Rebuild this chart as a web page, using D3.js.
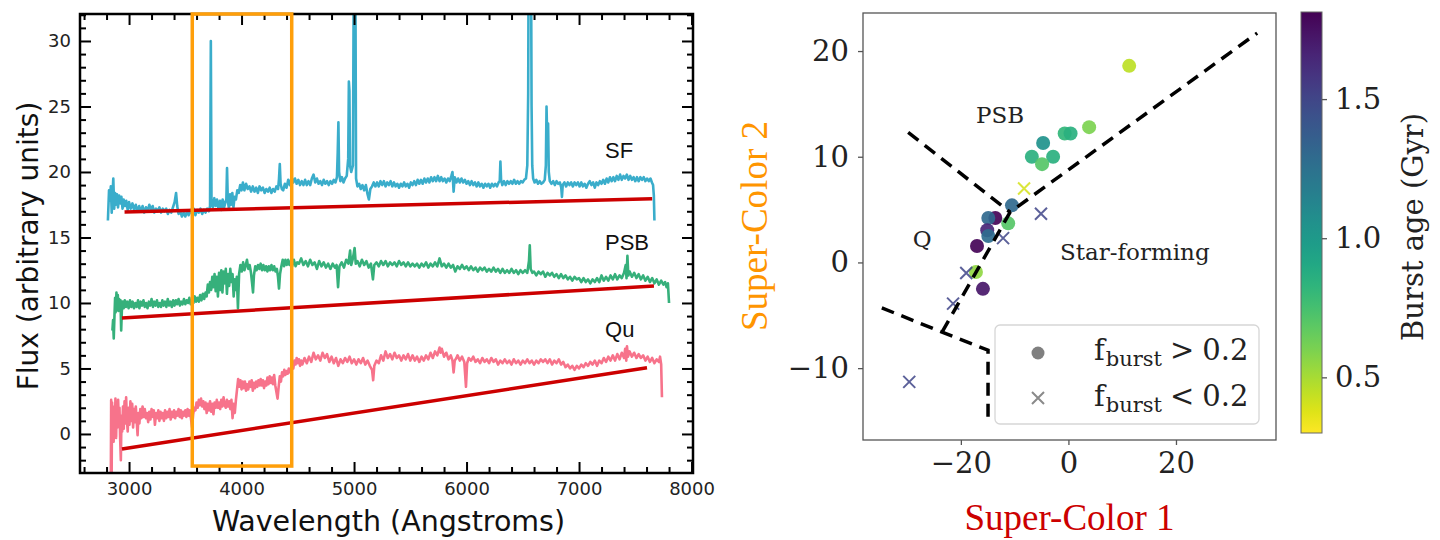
<!DOCTYPE html>
<html>
<head>
<meta charset="utf-8">
<script src="https://cdn.jsdelivr.net/npm/d3@7"></script>
<style>
  body { margin: 0; background: #fff; }
  svg { display: block; }
</style>
</head>
<body>
<svg id="chart" width="1440" height="540"></svg>
<script>
// ---------------------------------------------------------------
// Data: left panel, example spectra [wavelength (A), flux]
// ---------------------------------------------------------------
const sfSpectrum = [
  [2812,16.3],[2822,18.6],[2830,17.8],[2838,18.9],[2846,16.9],[2852,18.1],[2860,19.5],[2868,17.2],[2876,18.4],[2884,17.5],
  [2893,18.3],[2902,17.3],[2912,18.2],[2922,17.6],[2932,18.1],[2942,17.2],[2952,17.9],[2962,17.4],[2975,17.8],[2988,17.1],
  [3000,17.7],[3015,17.2],[3030,17.6],[3045,17.1],[3060,17.5],[3075,17.0],[3090,17.4],[3105,17.0],[3120,17.4],[3135,16.9],
  [3150,17.3],[3165,17.0],[3180,17.5],[3195,17.1],[3210,17.4],[3225,16.9],[3240,17.2],[3255,17.0],[3270,17.3],[3285,16.9],
  [3300,17.2],[3315,17.0],[3330,17.2],[3345,16.8],[3360,17.1],[3375,16.9],[3390,17.3],[3405,17.7],[3418,18.4],[3428,17.4],
  [3440,16.8],[3455,17.0],[3470,16.6],[3485,16.9],[3500,16.6],[3515,17.0],[3530,16.7],[3545,17.1],[3560,16.8],[3575,17.2],
  [3590,16.7],[3605,17.1],[3620,16.9],[3635,17.2],[3650,16.8],[3665,17.1],[3680,16.9],[3695,17.2],[3710,17.0],[3720,17.4],
  [3727,30.0],[3733,17.6],[3745,17.3],[3758,18.0],[3770,17.4],[3782,17.9],[3795,17.2],[3808,17.8],[3820,17.1],[3832,17.9],
  [3845,17.3],[3857,17.7],[3865,17.9],[3871,20.3],[3878,17.8],[3888,17.2],[3898,18.3],[3908,17.5],[3918,18.4],[3928,17.3],
  [3938,18.1],[3950,17.9],[3962,18.6],[3975,18.4],[3988,19.0],[4000,18.6],[4012,19.2],[4025,18.6],[4040,19.1],[4055,18.7],
  [4070,18.9],[4085,18.5],[4100,18.9],[4115,18.5],[4130,18.8],[4145,18.4],[4160,18.9],[4175,18.6],[4190,18.8],[4205,18.4],
  [4220,18.7],[4235,18.5],[4250,18.8],[4265,18.4],[4280,18.7],[4295,18.5],[4310,18.9],[4325,18.7],[4333,19.5],[4340,20.6],
  [4347,19.1],[4358,18.7],[4370,18.6],[4385,19.1],[4400,18.8],[4415,19.4],[4430,19.0],[4445,19.6],[4460,19.2],[4475,19.5],
  [4490,19.1],[4505,19.4],[4520,19.0],[4535,19.3],[4550,19.0],[4565,19.4],[4580,19.0],[4595,19.3],[4610,19.0],[4625,19.5],
  [4640,19.8],[4655,19.2],[4670,19.5],[4685,19.1],[4700,19.3],[4715,19.0],[4730,19.4],[4745,19.1],[4760,19.3],[4775,19.0],
  [4790,19.3],[4805,19.1],[4820,19.4],[4835,19.2],[4848,19.6],[4855,21.5],[4861,23.8],[4867,20.0],[4878,19.3],[4892,19.6],
  [4906,19.2],[4920,19.5],[4935,19.7],[4948,21.0],[4954,26.9],[4959,26.2],[4964,20.5],[4975,20.0],[4990,20.5],[5000,40.0],
  [5010,40.0],[5018,19.5],[5030,18.9],[5045,19.1],[5060,18.7],[5075,19.0],[5090,18.6],[5105,19.0],[5120,18.3],[5132,17.9],
  [5145,18.7],[5160,18.9],[5175,19.2],[5190,18.9],[5205,19.2],[5220,18.9],[5235,19.3],[5250,19.0],[5265,19.3],[5280,18.9],
  [5295,19.2],[5310,19.0],[5325,19.3],[5340,18.9],[5355,19.2],[5370,18.9],[5385,19.1],[5400,18.8],[5415,19.1],[5430,18.9],
  [5445,19.2],[5460,18.9],[5475,19.1],[5490,18.8],[5505,19.2],[5520,19.0],[5535,19.3],[5550,19.0],[5565,19.4],[5580,19.1],
  [5595,19.4],[5610,19.1],[5625,19.5],[5640,19.2],[5655,19.5],[5670,19.2],[5685,19.6],[5700,19.3],[5715,19.6],[5730,19.3],
  [5745,19.7],[5760,19.3],[5775,19.6],[5790,19.3],[5805,19.5],[5820,19.2],[5835,19.5],[5850,19.3],[5865,19.7],[5875,20.0],
  [5885,18.5],[5895,19.6],[5910,19.2],[5925,19.5],[5940,19.2],[5955,19.5],[5970,19.2],[5985,19.4],[6000,19.1],[6015,19.3],
  [6030,19.0],[6045,19.3],[6060,19.0],[6075,19.2],[6090,18.9],[6105,19.2],[6120,18.9],[6135,19.1],[6150,18.8],[6165,19.1],
  [6180,18.9],[6195,19.1],[6210,18.8],[6225,19.1],[6240,18.9],[6255,19.1],[6270,18.9],[6285,19.2],[6295,19.3],[6301,20.8],
  [6307,19.4],[6318,19.0],[6333,19.3],[6348,19.0],[6363,19.3],[6378,19.1],[6393,19.3],[6408,19.1],[6423,19.4],[6438,19.1],
  [6453,19.3],[6468,19.1],[6483,19.3],[6498,19.2],[6513,19.4],[6528,19.5],[6540,20.5],[6548,26.0],[6553,40.0],[6572,40.0],
  [6578,25.1],[6584,20.5],[6592,19.5],[6605,19.2],[6620,19.4],[6635,19.1],[6650,19.3],[6665,19.1],[6680,19.2],[6695,19.4],
  [6705,20.5],[6711,25.0],[6717,22.6],[6725,23.7],[6731,20.0],[6740,19.3],[6755,19.1],[6770,19.3],[6785,19.0],[6800,19.3],
  [6815,19.1],[6830,19.2],[6842,18.8],[6848,18.1],[6855,19.0],[6870,19.2],[6885,18.9],[6900,19.2],[6915,19.0],[6930,19.2],
  [6945,18.9],[6960,19.2],[6975,19.0],[6990,19.2],[7005,18.9],[7020,19.2],[7035,18.9],[7050,19.1],[7065,18.8],[7080,19.1],
  [7095,19.3],[7110,19.0],[7125,19.2],[7140,18.8],[7155,19.2],[7170,19.0],[7185,19.3],[7200,19.1],[7215,19.4],[7230,19.1],
  [7245,19.5],[7260,19.2],[7275,19.6],[7290,19.3],[7305,19.6],[7320,19.3],[7335,19.7],[7350,19.4],[7365,19.8],[7380,19.4],
  [7395,19.7],[7410,19.5],[7425,19.8],[7440,19.4],[7455,19.7],[7470,19.4],[7485,19.6],[7500,19.3],[7515,19.6],[7530,19.3],
  [7545,19.6],[7560,19.4],[7575,19.6],[7590,19.3],[7605,19.5],[7620,19.3],[7635,19.5],[7648,19.2],[7658,19.0],[7665,18.2],
  [7670,16.3]
];

const psbSpectrum = [
  [2852,7.9],[2858,8.7],[2864,7.3],[2870,8.9],[2876,10.4],[2882,9.3],[2888,10.8],[2894,9.5],[2900,10.6],[2906,9.4],
  [2912,10.3],[2918,9.6],[2924,10.2],[2930,7.9],[2936,9.4],[2944,10.1],[2952,9.6],[2962,10.2],[2972,9.7],[2984,10.1],
  [2996,9.6],[3008,10.2],[3020,9.7],[3032,10.1],[3044,9.6],[3056,10.0],[3068,9.7],[3080,10.2],[3092,9.6],[3104,10.1],
  [3116,9.8],[3128,10.2],[3140,9.7],[3152,10.0],[3164,9.6],[3176,10.1],[3188,9.8],[3200,10.3],[3212,9.7],[3224,10.1],
  [3236,9.8],[3248,10.2],[3260,9.7],[3272,10.0],[3284,9.7],[3296,10.2],[3308,9.8],[3320,10.1],[3332,9.7],[3344,10.3],
  [3356,9.8],[3368,10.1],[3380,9.7],[3392,10.2],[3404,9.8],[3416,10.2],[3428,9.9],[3440,10.3],[3452,9.8],[3464,10.1],
  [3476,9.9],[3488,10.3],[3500,9.9],[3512,10.2],[3524,10.0],[3536,10.4],[3548,9.9],[3560,10.2],[3572,10.0],[3584,10.5],
  [3596,10.1],[3608,10.4],[3620,10.1],[3632,10.6],[3644,10.2],[3656,10.7],[3668,10.3],[3680,10.8],[3690,10.5],[3700,11.4],
  [3710,10.8],[3720,11.6],[3730,11.0],[3740,12.0],[3750,11.2],[3760,12.2],[3770,10.9],[3780,12.0],[3790,10.5],[3800,12.3],
  [3810,11.0],[3820,12.5],[3830,10.8],[3840,12.4],[3850,11.5],[3860,12.6],[3870,10.7],[3880,12.2],[3890,11.3],[3900,12.6],
  [3910,11.6],[3920,12.2],[3930,10.5],[3940,11.8],[3950,11.0],[3958,12.0],[3968,9.6],[3978,12.2],[3990,12.9],[4002,12.4],
  [4014,13.1],[4026,12.5],[4038,12.9],[4048,13.3],[4060,12.6],[4072,12.9],[4084,12.3],[4095,11.4],[4102,10.8],[4110,12.1],
  [4122,12.8],[4134,12.5],[4146,12.9],[4158,12.6],[4170,13.0],[4182,12.5],[4194,12.9],[4206,12.5],[4218,12.8],[4230,12.4],
  [4242,12.8],[4254,12.5],[4266,12.9],[4278,12.5],[4290,12.8],[4302,12.4],[4314,12.6],[4324,12.0],[4333,11.1],[4342,12.2],
  [4354,12.8],[4366,13.3],[4378,12.8],[4390,13.3],[4402,12.9],[4414,13.3],[4426,12.9],[4438,13.2],[4450,12.8],[4465,13.3],
  [4480,12.8],[4495,13.1],[4510,13.0],[4530,13.4],[4550,12.9],[4570,13.2],[4590,12.8],[4610,13.3],[4630,12.9],[4650,13.1],
  [4670,12.6],[4690,13.2],[4710,12.8],[4730,13.1],[4750,12.7],[4770,13.0],[4790,12.6],[4810,13.0],[4830,12.7],[4845,12.9],
  [4858,11.2],[4870,12.8],[4890,13.1],[4910,12.7],[4930,13.3],[4950,13.0],[4965,14.0],[4975,12.9],[4990,13.4],[5005,14.2],
  [5015,13.0],[5030,13.2],[5050,12.8],[5070,13.3],[5090,12.9],[5110,13.2],[5130,12.7],[5150,13.0],[5168,11.8],[5180,12.9],
  [5200,13.1],[5220,12.8],[5240,13.2],[5260,12.9],[5280,13.2],[5300,12.8],[5320,13.1],[5340,12.9],[5360,13.1],[5380,12.8],
  [5400,13.2],[5420,12.9],[5440,13.1],[5460,12.8],[5480,13.1],[5500,12.8],[5520,13.0],[5540,12.8],[5560,13.0],[5580,12.7],
  [5600,13.0],[5620,12.8],[5640,13.1],[5660,12.7],[5680,13.0],[5700,12.8],[5720,13.1],[5740,12.8],[5760,13.4],[5780,12.8],
  [5800,13.0],[5820,12.7],[5840,13.0],[5860,12.7],[5880,12.9],[5900,12.4],[5920,12.8],[5940,12.6],[5960,12.9],[5980,12.6],
  [6000,12.8],[6020,12.5],[6040,12.8],[6060,12.5],[6080,12.7],[6100,12.4],[6120,12.7],[6140,12.5],[6160,12.7],[6180,12.4],
  [6200,12.6],[6220,12.4],[6240,12.7],[6260,12.4],[6280,12.6],[6300,12.3],[6320,12.6],[6340,12.3],[6360,12.5],[6380,12.3],
  [6400,12.6],[6420,12.3],[6440,12.5],[6460,12.2],[6480,12.5],[6500,12.3],[6520,12.5],[6540,12.3],[6555,13.2],[6562,14.4],
  [6570,12.6],[6585,12.3],[6600,12.4],[6620,12.1],[6640,12.4],[6660,12.2],[6680,12.4],[6700,12.0],[6720,12.3],[6740,12.1],
  [6760,12.3],[6780,12.0],[6800,12.2],[6820,11.9],[6840,12.2],[6860,11.9],[6880,12.1],[6900,11.8],[6920,12.0],[6940,11.7],
  [6960,12.0],[6980,11.8],[7000,11.9],[7020,11.6],[7040,11.9],[7060,11.6],[7080,11.8],[7100,11.5],[7120,11.8],[7140,11.6],
  [7160,11.9],[7180,11.6],[7200,12.1],[7220,11.7],[7240,12.0],[7260,11.7],[7280,12.1],[7300,11.8],[7320,12.2],[7340,11.8],
  [7360,12.1],[7380,11.9],[7400,12.3],[7415,12.9],[7422,11.9],[7430,13.6],[7438,12.1],[7450,12.4],[7470,12.0],[7490,12.3],
  [7510,11.9],[7530,12.2],[7550,11.8],[7570,12.1],[7590,11.7],[7610,12.0],[7630,11.6],[7650,11.9],[7670,11.5],[7690,11.8],
  [7710,11.4],[7730,11.7],[7750,11.4],[7765,11.6],[7778,11.2],[7790,11.5],[7800,10.0]
];

const quSpectrum = [
  [2838,-3.6],[2841,2.6],[2845,-3.6],[2849,2.4],[2853,0.1],[2858,2.1],[2863,-0.6],[2868,1.9],[2873,0.2],[2879,2.7],
  [2885,-0.3],[2891,2.3],[2897,0.5],[2903,2.6],[2909,0.9],[2915,2.0],[2921,-0.4],[2927,-2.0],[2933,1.4],[2939,0.2],
  [2946,2.1],[2953,0.4],[2960,2.5],[2967,0.8],[2974,2.8],[2981,1.1],[2988,0.2],[2996,2.0],[3004,0.7],[3012,2.5],
  [3020,1.0],[3028,2.3],[3036,0.5],[3044,1.9],[3052,0.9],[3060,2.1],[3068,1.0],[3076,-0.1],[3084,1.6],[3092,0.8],
  [3100,1.9],[3110,1.2],[3120,2.1],[3130,1.3],[3140,1.9],[3150,1.2],[3160,1.6],[3170,0.9],[3180,1.7],[3190,1.1],
  [3200,1.9],[3210,1.3],[3220,1.8],[3230,0.7],[3240,1.6],[3250,1.2],[3260,1.8],[3270,1.0],[3280,1.7],[3290,1.2],
  [3300,1.6],[3310,1.0],[3320,1.8],[3330,1.2],[3340,1.7],[3350,1.3],[3360,1.9],[3370,1.1],[3380,1.7],[3390,1.3],
  [3400,1.8],[3410,1.2],[3420,1.7],[3430,1.4],[3440,1.9],[3450,1.3],[3460,1.8],[3470,1.2],[3480,1.7],[3490,1.4],
  [3500,1.8],[3510,1.3],[3520,1.9],[3530,1.4],[3540,1.8],[3550,1.2],[3560,0.5],[3570,1.5],[3580,2.0],[3590,1.8],
  [3600,2.4],[3610,2.0],[3620,2.6],[3630,2.2],[3640,2.7],[3650,2.1],[3660,2.5],[3670,1.9],[3680,2.4],[3690,1.6],
  [3700,2.3],[3710,1.8],[3720,2.5],[3730,1.7],[3740,2.3],[3750,1.5],[3760,2.4],[3770,2.0],[3780,2.6],[3790,2.0],
  [3800,2.4],[3810,1.9],[3820,2.6],[3830,2.1],[3840,2.8],[3850,2.2],[3860,2.0],[3870,2.6],[3880,2.1],[3890,2.5],
  [3900,1.9],[3910,2.6],[3920,1.2],[3930,2.3],[3940,1.6],[3950,2.6],[3960,3.4],[3970,4.2],[3980,3.6],[3990,4.1],
  [4000,3.4],[4010,4.0],[4020,3.5],[4030,4.0],[4040,3.3],[4050,3.8],[4060,3.4],[4070,4.0],[4080,3.6],[4090,4.1],
  [4100,3.3],[4110,3.9],[4120,3.5],[4130,4.0],[4140,3.6],[4150,4.1],[4160,3.7],[4170,4.2],[4180,3.7],[4190,4.1],
  [4200,3.5],[4210,4.0],[4220,3.7],[4230,4.3],[4240,3.8],[4250,4.4],[4260,3.9],[4270,4.3],[4280,3.8],[4290,4.5],
  [4300,3.7],[4310,3.2],[4320,2.7],[4330,3.6],[4340,4.4],[4350,4.0],[4360,4.7],[4370,4.4],[4380,4.9],[4390,4.5],
  [4400,4.8],[4410,4.6],[4420,5.0],[4430,4.7],[4440,4.9],[4450,5.3],[4460,5.0],[4470,5.6],[4480,5.3],[4490,5.8],
  [4500,5.4],[4510,5.7],[4520,5.2],[4530,5.6],[4540,5.3],[4560,5.8],[4580,5.4],[4600,5.9],[4620,5.5],[4640,6.2],
  [4660,5.7],[4680,6.0],[4700,5.6],[4720,6.2],[4740,5.8],[4760,6.1],[4780,5.5],[4800,5.9],[4820,5.4],[4840,5.8],
  [4860,5.2],[4880,5.7],[4900,5.4],[4920,5.8],[4940,5.5],[4960,5.9],[4980,5.4],[5000,5.7],[5020,5.3],[5040,5.7],
  [5060,5.4],[5080,5.8],[5100,5.3],[5120,5.6],[5140,5.2],[5160,4.9],[5170,4.1],[5180,5.2],[5200,5.6],[5220,5.4],
  [5240,6.0],[5260,5.6],[5280,6.3],[5300,5.8],[5320,6.1],[5340,5.7],[5360,6.2],[5380,5.8],[5400,6.0],[5420,5.6],
  [5440,6.0],[5460,5.7],[5480,6.1],[5500,5.6],[5520,6.0],[5540,5.6],[5560,5.9],[5580,5.5],[5600,5.9],[5620,5.6],
  [5640,6.0],[5660,5.7],[5680,6.2],[5700,5.8],[5720,6.3],[5740,6.0],[5760,6.6],[5770,6.2],[5780,6.5],[5800,5.9],
  [5820,6.2],[5840,5.7],[5860,6.0],[5875,5.6],[5885,4.7],[5895,5.6],[5910,5.8],[5920,6.0],[5940,5.6],[5960,5.9],
  [5980,5.5],[5995,3.6],[6005,5.4],[6020,5.8],[6040,5.6],[6060,5.9],[6080,5.5],[6100,5.7],[6120,5.4],[6140,5.8],
  [6160,5.5],[6180,5.7],[6200,5.4],[6220,5.8],[6240,5.5],[6260,5.7],[6280,5.3],[6300,5.6],[6320,5.4],[6340,5.7],
  [6360,5.4],[6380,5.6],[6400,5.3],[6420,5.7],[6440,5.4],[6460,5.6],[6480,5.3],[6500,5.6],[6520,5.4],[6540,5.7],
  [6560,5.4],[6580,5.6],[6600,5.3],[6620,5.6],[6640,5.4],[6660,5.7],[6680,5.5],[6700,5.7],[6720,5.4],[6740,5.7],
  [6760,5.3],[6780,5.6],[6800,5.4],[6820,5.7],[6840,5.3],[6860,5.5],[6880,5.1],[6900,5.3],[6920,5.0],[6940,5.2],
  [6960,4.9],[6980,5.2],[7000,5.0],[7020,5.3],[7040,5.1],[7060,5.4],[7080,5.2],[7100,5.5],[7120,5.3],[7140,5.6],
  [7160,5.2],[7180,5.6],[7200,5.4],[7220,5.8],[7240,5.5],[7260,5.9],[7280,5.6],[7300,6.0],[7320,5.6],[7340,6.1],
  [7360,5.7],[7380,6.2],[7400,5.8],[7410,6.5],[7420,5.6],[7426,6.7],[7435,5.9],[7450,6.3],[7470,5.9],[7490,6.2],
  [7510,5.8],[7530,6.1],[7550,5.8],[7570,6.0],[7590,5.6],[7610,5.9],[7630,5.5],[7650,5.8],[7670,5.4],[7690,5.7],
  [7710,5.5],[7720,5.9],[7730,5.3],[7737,2.8]
];

// straight continuum fits (red lines), [wavelength, flux] end points
const sfFit = [[2960, 16.95], [7650, 17.95]];
const psbFit = [[2937, 8.85], [7666, 11.3]];
const quFit = [[2937, -1.15], [7604, 5.05]];

const spectrumNames = ['SF', 'PSB', 'Qu'];
const spectrumLabelFlux = [21.07, 14.05, 7.4];

// highlighted wavelength window (orange box)
const boxWave = [3562, 4446];

const waveTicks = [3000, 4000, 5000, 6000, 7000, 8000];
const fluxTicks = [0, 5, 10, 15, 20, 25, 30];
const waveLimits = [2564, 8013];
const fluxLimits = [-2.98, 32.06];

// ---------------------------------------------------------------
// Data: right panel, super-colour diagram
// ---------------------------------------------------------------
// f_burst > 0.2 (circles)
const highSC1 = [11.3, 3.85, -0.7, 0.4, -4.7, -6.8, -2.85, -4.9, -10.5, -11.2, -13.6, -14.9, -15.1, -14.9, -17.0, -17.2, -15.9];
const highSC2 = [18.6, 12.8, 12.2, 12.2, 11.3, 10.0, 10.0, 9.3, 5.4, 3.7, 4.2, 4.2, 3.05, 2.5, 1.55, -0.9, -2.5];
const highAge = [0.45, 0.6, 0.82, 0.85, 1.05, 0.85, 0.85, 0.7, 1.3, 0.7, 1.8, 1.3, 1.65, 1.28, 1.8, 0.55, 1.72];

// f_burst < 0.2 (crosses)
const lowSC1 = [-8.25, -5.1, -12.15, -19.0, -21.45, -29.6];
const lowSC2 = [7.0, 4.6, 2.3, -1.0, -3.9, -11.3];
const lowAge = [0.4, 1.5, 1.5, 1.5, 1.5, 1.5];

// class boundaries [super-colour 1, super-colour 2]
const boundaryLines = [
  [[-23.5, -6.6], [-10.85, 4.76], [35.1, 21.7]],
  [[-29.8, 12.3], [-10.85, 4.76]],
  [[-34.7, -4.3], [-23.5, -6.6], [-14.95, -8.3], [-14.95, -14.75]]
];

const regionNames = ['PSB', 'Q', 'Star-forming'];

const scTicksX = [-20, 0, 20];
const scTicksY = [-10, 0, 10, 20];
const ageTicks = [0.5, 1.0, 1.5];
const scLimitsX = [-38.2, 38.6];
const scLimitsY = [-16.8, 23.6];
const ageLimits = [0.3, 1.813];

// ---------------------------------------------------------------
const svg = d3.select('#chart');
const defs = svg.append('defs');

const SANS = "'DejaVu Sans', sans-serif";
const SERIF = "'DejaVu Serif', serif";
const TIMES = "'Liberation Serif', 'Times New Roman', serif";

// ======================= LEFT PANEL ============================
const spec = { left: 80, right: 693, top: 14, bottom: 473 };

const xSpec = d3.scaleLinear().domain(waveLimits).range([spec.left, spec.right]);
const ySpec = d3.scaleLinear().domain(fluxLimits).range([spec.bottom, spec.top]);

defs.append('clipPath').attr('id', 'specClip')
  .append('rect')
  .attr('x', spec.left).attr('y', spec.top)
  .attr('width', spec.right - spec.left).attr('height', spec.bottom - spec.top);

const specLine = d3.line()
  .x(d => xSpec(d[0]))
  .y(d => ySpec(d[1]));

const plotArea = svg.append('g').attr('clip-path', 'url(#specClip)');

const spectra = [
  { data: sfSpectrum, color: '#3aadcb', fit: sfFit },
  { data: psbSpectrum, color: '#36b07b', fit: psbFit },
  { data: quSpectrum, color: '#f7738b', fit: quFit }
];

spectra.forEach(s => {
  plotArea.append('path')
    .datum(s.data)
    .attr('d', specLine)
    .attr('fill', 'none')
    .attr('stroke', s.color)
    .attr('stroke-width', 2.6)
    .attr('stroke-linejoin', 'round');
});

spectra.forEach(s => {
  plotArea.append('path')
    .datum(s.fit)
    .attr('d', specLine)
    .attr('fill', 'none')
    .attr('stroke', '#cc0000')
    .attr('stroke-width', 3.5);
});

// spectrum names
svg.append('g').selectAll('text')
  .data(spectrumNames)
  .enter().append('text')
  .attr('x', xSpec(7231))
  .attr('y', (d, i) => ySpec(spectrumLabelFlux[i]))
  .attr('font-family', "'Liberation Sans', Arial, sans-serif")
  .attr('font-size', 22)
  .attr('fill', '#111')
  .text(d => d);

// ticks, all pointing inwards
function ticks(axis, scale, values, size, labels) {
  let a = axis(scale).tickValues(values).tickSize(-size).tickPadding(9);
  a.tickFormat(labels ? d3.format('d') : '');
  return a;
}

const waveMinor = d3.range(2600, 8001, 200).filter(v => v % 1000 !== 0);
const fluxMinor = d3.range(-2, 33, 1).filter(v => v % 5 !== 0);

const axisGroups = [];
axisGroups.push(svg.append('g').attr('transform', `translate(0,${spec.bottom})`)
  .call(ticks(d3.axisBottom, xSpec, waveTicks, 11, true)));
axisGroups.push(svg.append('g').attr('transform', `translate(0,${spec.bottom})`)
  .call(ticks(d3.axisBottom, xSpec, waveMinor, 6, false)));
axisGroups.push(svg.append('g').attr('transform', `translate(0,${spec.top})`)
  .call(ticks(d3.axisTop, xSpec, waveTicks, 11, false)));
axisGroups.push(svg.append('g').attr('transform', `translate(0,${spec.top})`)
  .call(ticks(d3.axisTop, xSpec, waveMinor, 6, false)));
axisGroups.push(svg.append('g').attr('transform', `translate(${spec.left},0)`)
  .call(ticks(d3.axisLeft, ySpec, fluxTicks, 11, true)));
axisGroups.push(svg.append('g').attr('transform', `translate(${spec.left},0)`)
  .call(ticks(d3.axisLeft, ySpec, fluxMinor, 6, false)));
axisGroups.push(svg.append('g').attr('transform', `translate(${spec.right},0)`)
  .call(ticks(d3.axisRight, ySpec, fluxTicks, 11, false)));
axisGroups.push(svg.append('g').attr('transform', `translate(${spec.right},0)`)
  .call(ticks(d3.axisRight, ySpec, fluxMinor, 6, false)));

axisGroups.forEach(g => {
  g.select('.domain').remove();
  g.selectAll('line').attr('stroke', '#000').attr('stroke-width', 2);
  g.selectAll('text')
    .attr('font-family', SANS)
    .attr('font-size', 18)
    .attr('fill', '#222');
});

// spines
svg.append('rect')
  .attr('x', spec.left).attr('y', spec.top)
  .attr('width', spec.right - spec.left).attr('height', spec.bottom - spec.top)
  .attr('fill', 'none')
  .attr('stroke', '#000')
  .attr('stroke-width', 2.5);

// orange window
svg.append('rect')
  .attr('x', xSpec(boxWave[0]))
  .attr('y', spec.top)
  .attr('width', xSpec(boxWave[1]) - xSpec(boxWave[0]))
  .attr('height', ySpec(-2.45) - spec.top)
  .attr('fill', 'none')
  .attr('stroke', '#ff9f0a')
  .attr('stroke-width', 3.5);

svg.append('text')
  .attr('x', (spec.left + spec.right) / 2 + 2)
  .attr('y', 531)
  .attr('text-anchor', 'middle')
  .attr('font-family', SANS)
  .attr('font-size', 28.5)
  .attr('fill', '#111')
  .text('Wavelength (Angstroms)');

svg.append('text')
  .attr('transform', 'translate(38,246) rotate(-90)')
  .attr('text-anchor', 'middle')
  .attr('font-family', SANS)
  .attr('font-size', 28)
  .attr('fill', '#111')
  .text('Flux (arbitrary units)');

// ======================= RIGHT PANEL ===========================
const sc = { left: 863, right: 1276, top: 13, bottom: 440 };

const xSC = d3.scaleLinear().domain(scLimitsX).range([sc.left, sc.right]);
const ySC = d3.scaleLinear().domain(scLimitsY).range([sc.bottom, sc.top]);

const ageColor = a => d3.interpolateViridis((ageLimits[1] - a) / (ageLimits[1] - ageLimits[0]));

defs.append('clipPath').attr('id', 'scClip')
  .append('rect')
  .attr('x', sc.left).attr('y', sc.top)
  .attr('width', sc.right - sc.left).attr('height', sc.bottom - sc.top);

const scArea = svg.append('g').attr('clip-path', 'url(#scClip)');

// circles
scArea.append('g').selectAll('circle')
  .data(highSC1.map((v, i) => ({ x: v, y: highSC2[i], age: highAge[i] })))
  .enter().append('circle')
  .attr('cx', d => xSC(d.x))
  .attr('cy', d => ySC(d.y))
  .attr('r', 7)
  .attr('fill', d => ageColor(d.age))
  .attr('fill-opacity', 0.92);

// crosses
scArea.append('g').selectAll('path')
  .data(lowSC1.map((v, i) => ({ x: v, y: lowSC2[i], age: lowAge[i] })))
  .enter().append('path')
  .attr('transform', d => `translate(${xSC(d.x)},${ySC(d.y)})`)
  .attr('d', 'M-6,-6L6,6M-6,6L6,-6')
  .attr('stroke', d => ageColor(d.age))
  .attr('stroke-opacity', 0.85)
  .attr('stroke-width', 2);

// class boundaries
const scLine = d3.line().x(d => xSC(d[0])).y(d => ySC(d[1]));
scArea.append('g').selectAll('path')
  .data(boundaryLines)
  .enter().append('path')
  .attr('d', scLine)
  .attr('fill', 'none')
  .attr('stroke', '#000')
  .attr('stroke-width', 3.5)
  .attr('stroke-dasharray', '13,8');

// region names
const regionPos = [[-12.7, 13.2, 'middle'], [-27.2, 1.45, 'middle'], [-1.55, 0.22, 'start']];
svg.append('g').selectAll('text')
  .data(regionNames)
  .enter().append('text')
  .attr('x', (d, i) => xSC(regionPos[i][0]))
  .attr('y', (d, i) => ySC(regionPos[i][1]))
  .attr('text-anchor', (d, i) => regionPos[i][2])
  .attr('font-family', SERIF)
  .attr('font-size', 23)
  .attr('fill', '#222')
  .text(d => d);

// axes
const scX = svg.append('g').attr('transform', `translate(0,${sc.bottom})`)
  .call(d3.axisBottom(xSC).tickValues(scTicksX).tickSize(5).tickPadding(7));
const scY = svg.append('g').attr('transform', `translate(${sc.left},0)`)
  .call(d3.axisLeft(ySC).tickValues(scTicksY).tickSize(5).tickPadding(9));
[scX, scY].forEach(g => {
  g.select('.domain').remove();
  g.selectAll('line').attr('stroke', '#555').attr('stroke-width', 1.3);
  g.selectAll('text')
    .attr('font-family', SERIF)
    .attr('font-size', 29)
    .attr('fill', '#222');
});

svg.append('rect')
  .attr('x', sc.left).attr('y', sc.top)
  .attr('width', sc.right - sc.left).attr('height', sc.bottom - sc.top)
  .attr('fill', 'none')
  .attr('stroke', '#555')
  .attr('stroke-width', 1.3);

// legend
const leg = svg.append('g');
leg.append('rect')
  .attr('x', 995).attr('y', 325).attr('width', 264).attr('height', 99)
  .attr('rx', 5)
  .attr('fill', '#fff').attr('fill-opacity', 0.85)
  .attr('stroke', '#d6d6d6').attr('stroke-width', 1.3);
leg.append('circle')
  .attr('cx', 1038).attr('cy', 353).attr('r', 6.5)
  .attr('fill', '#808080');
leg.append('path')
  .attr('transform', 'translate(1038,398)')
  .attr('d', 'M-6,-6L6,6M-6,6L6,-6')
  .attr('stroke', '#8a8a8a').attr('stroke-width', 2);

['>', '<'].forEach((op, i) => {
  const t = leg.append('text')
    .attr('x', 1094)
    .attr('y', 360 + i * 46)
    .attr('font-family', SERIF)
    .attr('font-size', 29)
    .attr('fill', '#222');
  t.append('tspan').text('f');
  t.append('tspan').attr('font-size', 21).attr('dy', 6).attr('dx', 1).text('burst');
  t.append('tspan').attr('dy', -6).attr('dx', 8).text(op);
  t.append('tspan').attr('dx', 8).text('0.2');
});

// axis titles
svg.append('text')
  .attr('x', (sc.left + sc.right) / 2)
  .attr('y', 530)
  .attr('text-anchor', 'middle')
  .attr('font-family', TIMES)
  .attr('font-size', 37)
  .attr('fill', '#cc0000')
  .text('Super-Color 1');

svg.append('text')
  .attr('transform', 'translate(767,226) rotate(-90)')
  .attr('text-anchor', 'middle')
  .attr('font-family', TIMES)
  .attr('font-size', 37)
  .attr('fill', '#ff9500')
  .text('Super-Color 2');

// colour bar
const cb = { left: 1301, right: 1322, top: 12, bottom: 433 };
const yAge = d3.scaleLinear().domain(ageLimits).range([cb.bottom, cb.top]);

const grad = defs.append('linearGradient')
  .attr('id', 'ageGrad')
  .attr('x1', 0).attr('y1', 1).attr('x2', 0).attr('y2', 0);
grad.selectAll('stop')
  .data(d3.range(0, 1.0001, 0.05))
  .enter().append('stop')
  .attr('offset', d => d)
  .attr('stop-color', d => ageColor(ageLimits[0] + d * (ageLimits[1] - ageLimits[0])));

svg.append('rect')
  .attr('x', cb.left).attr('y', cb.top)
  .attr('width', cb.right - cb.left).attr('height', cb.bottom - cb.top)
  .attr('fill', 'url(#ageGrad)')
  .attr('stroke', '#666')
  .attr('stroke-width', 1);

const cbAxis = svg.append('g').attr('transform', `translate(${cb.right},0)`)
  .call(d3.axisRight(yAge).tickValues(ageTicks).tickFormat(d3.format('.1f')).tickSize(5).tickPadding(8));
cbAxis.select('.domain').remove();
cbAxis.selectAll('line').attr('stroke', '#555').attr('stroke-width', 1.3);
cbAxis.selectAll('text')
  .attr('font-family', SERIF)
  .attr('font-size', 29)
  .attr('fill', '#222');

svg.append('text')
  .attr('transform', 'translate(1423,227) rotate(-90)')
  .attr('text-anchor', 'middle')
  .attr('font-family', SERIF)
  .attr('font-size', 29)
  .attr('fill', '#222')
  .text('Burst age (Gyr)');
</script>
</body>
</html>
